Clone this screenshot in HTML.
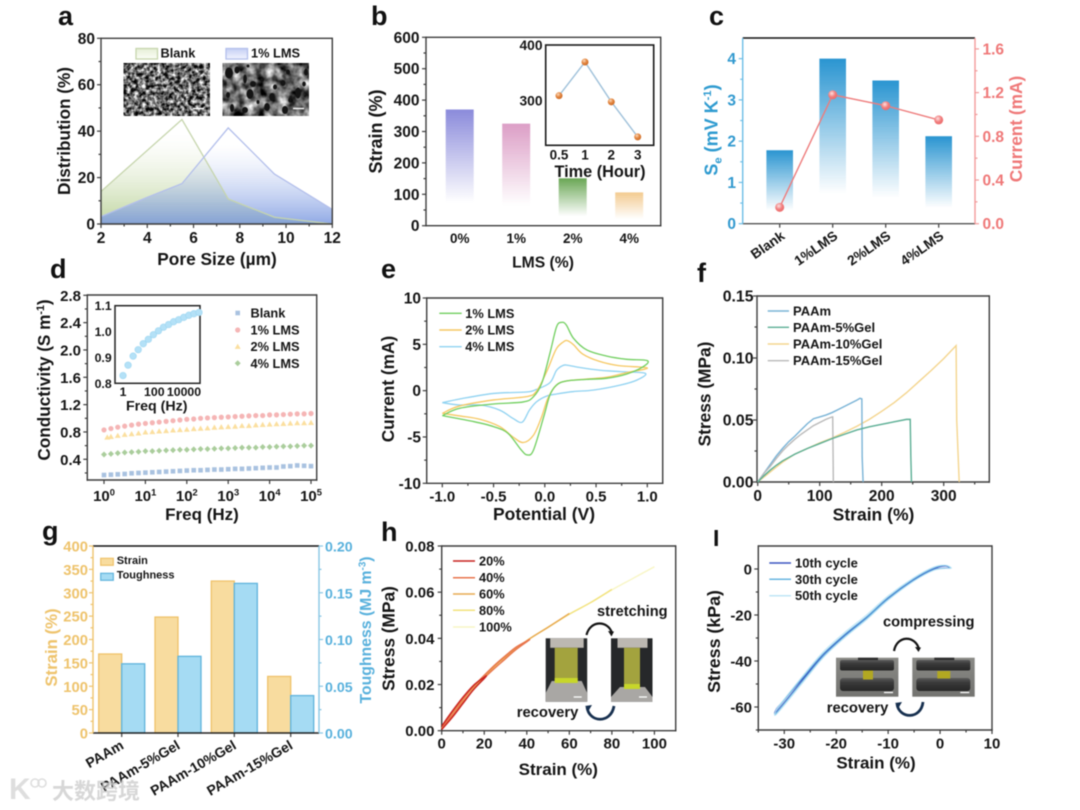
<!DOCTYPE html>
<html lang="en">
<head>
<meta charset="utf-8">
<title>Hydrogel characterization figure</title>
<style>
html,body{margin:0;padding:0;background:#fff;width:1080px;height:810px;overflow:hidden}
svg{display:block;filter:blur(0.45px)}
text{font-family:"Liberation Sans","Noto Sans CJK SC",sans-serif;font-weight:bold;fill:#151515}
</style>
</head>
<body>
<svg id="figure" xmlns="http://www.w3.org/2000/svg" width="1080" height="810" viewBox="0 0 1080 810">
<defs>
<linearGradient id="fillBlank" gradientUnits="userSpaceOnUse" x1="0" y1="224" x2="0" y2="135"><stop offset="0" stop-color="#a9c77f" stop-opacity=".75"/><stop offset="1" stop-color="#dfe9cc" stop-opacity="0"/></linearGradient>
<linearGradient id="fillLms" gradientUnits="userSpaceOnUse" x1="0" y1="224" x2="0" y2="145"><stop offset="0" stop-color="#7c9ae0" stop-opacity=".85"/><stop offset="1" stop-color="#c9d4f5" stop-opacity="0"/></linearGradient>
<linearGradient id="swGreen" x1="0" y1="0" x2="0" y2="1"><stop offset="0" stop-color="#e6efd6"/><stop offset="1" stop-color="#fbfdf7"/></linearGradient>
<linearGradient id="swBlue" x1="0" y1="0" x2="0" y2="1"><stop offset="0" stop-color="#c5cff5"/><stop offset="1" stop-color="#f2f4fe"/></linearGradient>
<radialGradient id="ballOrange" cx=".38" cy=".32" r=".75"><stop offset="0" stop-color="#fbdcc0"/><stop offset=".45" stop-color="#e58a45"/><stop offset="1" stop-color="#c8641f"/></radialGradient>
<radialGradient id="ballRed" cx=".4" cy=".35" r=".75"><stop offset="0" stop-color="#fde2e2"/><stop offset=".5" stop-color="#f17f7f"/><stop offset="1" stop-color="#ea6464"/></radialGradient>
<filter id="semFine" x="0" y="0" width="100%" height="100%" color-interpolation-filters="sRGB"><feTurbulence type="fractalNoise" baseFrequency="0.26" numOctaves="2" seed="4"/><feColorMatrix type="matrix" values="2.0 0 0 0 -0.58 2.0 0 0 0 -0.58 2.0 0 0 0 -0.58 0 0 0 0 1"/></filter>
<filter id="semCoarse" x="0" y="0" width="100%" height="100%" color-interpolation-filters="sRGB"><feTurbulence type="fractalNoise" baseFrequency="0.09" numOctaves="3" seed="9"/><feColorMatrix type="matrix" values="1.6 0 0 0 -0.38 1.6 0 0 0 -0.38 1.6 0 0 0 -0.38 0 0 0 0 1"/></filter>
<linearGradient id="metal" x1="0" y1="0" x2="0" y2="1"><stop offset="0" stop-color="#8a8a86"/><stop offset="1" stop-color="#737370"/></linearGradient>
<linearGradient id="disc" x1="0" y1="0" x2="0" y2="1"><stop offset="0" stop-color="#5a5a5a"/><stop offset=".35" stop-color="#3a3a3a"/><stop offset="1" stop-color="#262626"/></linearGradient>
</defs>
<g id="panel-a"></g>
<g id="panel-b"></g>
<g id="panel-c"></g>
<g id="panel-d"></g>
<g id="panel-e"></g>
<g id="panel-f"></g>
<g id="panel-g"></g>
<g id="panel-h"></g>
<g id="panel-i"></g>
<g id="watermark"></g>
</svg>
<script>
/* ---------- panel a data ---------- */
const aBlankX = [2, 5.5, 7.5, 9.5, 12];
const aBlankY = [14, 45, 10.8, 2.9, 0];
const aLmsX = [2, 4, 5.5, 7.5, 9.5, 12];
const aLmsY = [3.2, 11.5, 17.4, 41.4, 21.5, 6.3];
const aXTicks = [2, 4, 6, 8, 10, 12];
const aYTicks = [0, 20, 40, 60, 80];
/* ---------- panel b data ---------- */
const bCats = ['0%', '1%', '2%', '4%'];
const bStrain = [370, 325, 151, 106];
const bYTicks = [0, 100, 200, 300, 400, 500, 600];
const bInsetCats = ['0.5', '1', '2', '3'];
const bInsetStrain = [309, 369.5, 298, 235];
const bInsetTicks = [300, 400];
/* ---------- panel c data ---------- */
const cCats = ['Blank', '1%LMS', '2%LMS', '4%LMS'];
const cSe = [1.78, 4.0, 3.47, 2.12];
const cCurrent = [0.15, 1.18, 1.08, 0.95];
const cLeftTicks = [0, 1, 2, 3, 4];
const cRightTicks = ['0.0', '0.4', '0.8', '1.2', '1.6'];
/* ---------- panel d data ---------- */
const dFreq = [1,1.47,2.15,3.16,4.64,6.81,10,14.7,21.5,31.6,46.4,68.1,100,147,215,316,464,681,1000,1470,2150,3160,4640,6810,10000,14700,21500,31600,46400,68100,100000];
const d2Freq = [1.2,1.47,2.15,3.16,4.64,6.81,10,14.7,21.5,31.6,46.4,68.1,100,147,215,316,464,681,1000,1470,2150,3160,4640,6810,10000,14700,21500,31600,46400,68100,100000];
const dBlank = [.17,.175,.18,.185,.195,.20,.205,.21,.215,.22,.225,.23,.235,.24,.24,.245,.25,.25,.255,.26,.26,.265,.27,.275,.28,.28,.295,.30,.31,.305,.30];
const d1Lms = [.83,.85,.87,.885,.90,.915,.925,.935,.945,.955,.965,.975,.985,.99,1.0,1.005,1.01,1.015,1.02,1.025,1.03,1.035,1.04,1.04,1.05,1.05,1.055,1.06,1.065,1.065,1.07];
const d2Lms = [.72,.73,.745,.76,.77,.78,.795,.80,.81,.815,.825,.83,.835,.845,.85,.855,.865,.87,.875,.88,.89,.89,.90,.905,.91,.915,.92,.925,.93,.93,.935];
const d4Lms = [.47,.48,.49,.50,.505,.51,.52,.52,.525,.53,.535,.54,.54,.545,.55,.55,.555,.56,.56,.565,.57,.57,.57,.58,.58,.585,.59,.59,.595,.60,.60];
const dYTicks = ['0.4', '0.8', '1.2', '1.6', '2.0', '2.4', '2.8'];
const dXExponents = [0, 1, 2, 3, 4, 5];
const dInsetFreq = [1,2.15,4.64,10,21.5,46.4,100,215,464,1000,2150,4640,10000,21500,46400,100000];
const dInsetCond = [.83,.87,.905,.93,.953,.97,.988,1.003,1.017,1.027,1.038,1.046,1.055,1.063,1.069,1.074];
const dInsetYTicks = ['0.8', '0.9', '1.0', '1.1'];
const dInsetXTicks = ['1', '100', '10000'];
/* ---------- panel e data ---------- */
const e1V = [-1,-.83,-.5,-.21,-.11,-.03,.05,.115,.165,.21,.28,.41,.6,.8,1,.96,.8,.6,.41,.21,.115,.05,-.01,-.11,-.17,-.23,-.36,-.5,-.69,-1];
const e1I = [-2.7,-1.9,-1.44,-1.22,-.65,.79,4.03,6.9,7.37,7.09,5.65,4.39,3.74,3.38,3.24,2.59,1.8,1.33,1.22,1.04,.61,-.47,-2.8,-6.4,-6.94,-6.4,-4.6,-3.88,-3.35,-2.7];
const e2V = [-1,-.83,-.5,-.18,-.08,.02,.11,.18,.22,.28,.37,.53,.72,1,.8,.6,.41,.21,.115,.03,-.03,-.11,-.21,-.31,-.44,-.63,-.83,-1];
const e2I = [-2.45,-1.65,-1,-.65,-.05,2.1,4.46,5.25,5.4,4.96,3.95,3.17,2.7,2.45,1.95,1.44,1.26,1.04,.61,-.83,-2.8,-4.8,-5.6,-5,-3.88,-3.1,-2.73,-2.45];
const e4V = [-1,-.83,-.5,-.18,-.08,.05,.115,.18,.23,.35,.54,.74,.98,.9,.74,.48,.28,.115,.02,-.08,-.15,-.22,-.31,-.44,-.63,-.83,-1];
const e4I = [-1.3,-.9,-.3,-.15,.14,.86,2.2,2.73,2.73,2.48,2.2,2.05,1.87,1.15,.61,.07,-.1,-.36,-.58,-1.2,-2.1,-3.4,-3,-2.1,-1.55,-1.55,-1.3];
const eXTicks = ['-1.0', '-0.5', '0.0', '0.5', '1.0'];
const eYTicks = [-10, -5, 0, 5, 10];
const eSeries = ['1% LMS', '2% LMS', '4% LMS'];
/* ---------- panel f data ---------- */
const fPaamX = [0,10,20,30,40,50,60,70,80,90,100,110,120,130,140,150,160,165,168,168.5,170];
const fPaamY = [0,.007,.014,.021,.027,.0325,.037,.042,.047,.051,.0525,.054,.056,.0585,.061,.0635,.066,.0675,.067,.02,0];
const f5X = [0,10,20,30,40,60,80,100,120,140,160,180,200,220,240,246,247,248];
const f5Y = [0,.005,.0095,.0135,.017,.0225,.027,.031,.035,.0385,.042,.0445,.0465,.0485,.0505,.0505,.02,0];
const f10X = [0,10,20,30,40,60,80,100,120,140,160,180,200,220,240,260,280,300,320,321,325];
const f10Y = [0,.004,.008,.012,.016,.0225,.027,.0315,.0355,.04,.045,.0505,.057,.064,.072,.081,.09,.0995,.11,.05,0];
const f15X = [0,10,20,30,40,50,60,70,80,90,100,110,120,121,122];
const f15Y = [0,.007,.0125,.019,.025,.03,.0345,.0385,.042,.0455,.048,.0505,.0525,.0525,0];
const fXTicks = [0, 100, 200, 300];
const fYTicks = ['0.00', '0.05', '0.10', '0.15'];
const fSeries = ['PAAm', 'PAAm-5%Gel', 'PAAm-10%Gel', 'PAAm-15%Gel'];
/* ---------- panel g data ---------- */
const gCats = ['PAAm', 'PAAm-5%Gel', 'PAAm-10%Gel', 'PAAm-15%Gel'];
const gStrain = [169, 248, 325, 121];
const gTough = [0.074, 0.082, 0.16, 0.04];
const gLeftTicks = [0, 50, 100, 150, 200, 250, 300, 350, 400];
const gRightTicks = ['0.00', '0.05', '0.10', '0.15', '0.20'];
/* ---------- panel h data ---------- */
const h100X = [0,5,10,15,20,25,30,40,50,60,70,80,90,100];
const h100Y = [.001,.0075,.0135,.0188,.0235,.028,.032,.039,.0448,.0505,.0555,.061,.066,.071];
const h80X = [0,5,10,15,20,25,30,40,50,60,70,80];
const h80Y = [.001,.0075,.0135,.0188,.0235,.028,.032,.039,.0448,.0505,.0555,.0612];
const h60X = [0,5,10,15,20,25,30,40,50,60];
const h60Y = [.001,.0075,.0135,.0188,.0235,.028,.032,.039,.0448,.0508];
const h40X = [0,5,10,15,20,25,30,35,40,41,35,30,20,10,5,0];
const h40Y = [.001,.0078,.0138,.0192,.024,.0285,.0325,.0362,.0388,.0392,.0352,.0312,.0228,.0125,.0065,.001];
const h20X = [0,5,10,15,20,21,20,15,10,5,0];
const h20Y = [.002,.0085,.0145,.0197,.0232,.0237,.0226,.0178,.0118,.0058,.0005];
const hXTicks = [0, 20, 40, 60, 80, 100];
const hYTicks = ['0.00', '0.02', '0.04', '0.06', '0.08'];
const hSeries = ['20%', '40%', '60%', '80%', '100%'];
/* ---------- panel i data ---------- */
const i50X = [-31.5,-26.4,-22.5,-18.3,-14.1,-10,-5.1,-1.3,1,2.2,1,-1.3,-5.1,-10,-14.1,-18.3,-22.5,-26.4,-31.5,-31.5];
const i50Y = [-60.8,-46.3,-36,-27.4,-19.8,-11.6,-3.8,.8,1.7,.4,.2,-.7,-5.4,-13.6,-22,-29.8,-38.6,-49.4,-63.2,-60.8];
const i30X = [-31.5,-26.4,-22.5,-18.3,-14.1,-10,-5.1,-1.3,1,2,1,-1.3,-5.1,-10,-14.1,-18.3,-22.5,-26.4,-31.5,-31.5];
const i30Y = [-61.2,-47,-36.8,-28.2,-20.6,-12.3,-4.3,.4,1.5,.4,.3,-.4,-5.1,-13.1,-21.4,-29.2,-38,-48.6,-62.6,-61.2];
const i10X = [-31.5,-26.4,-22.5,-18.3,-14.1,-10,-5.1,-1.3,1,1.8,1,-1.3,-5.1,-10,-14.1,-18.3,-22.5,-26.4,-31.5,-31.5];
const i10Y = [-60.6,-47.4,-37.2,-28.6,-21,-12.7,-4.7,0,1.3,.4,.4,-.3,-4.9,-12.8,-21.2,-29,-37.8,-48,-62,-60.6];
const iXTicks = [-30, -20, -10, 0, 10];
const iYTicks = [-60, -40, -20, 0];
const iSeries = ['10th cycle', '30th cycle', '50th cycle'];

/* ---------- helpers ---------- */
const NS = 'http://www.w3.org/2000/svg';
const AXIS = '#3c3c3c';
function mk(parent, tag, attrs, name, content) {
  const el = document.createElementNS(NS, tag);
  for (const k in attrs) el.setAttribute(k, attrs[k]);
  
  
  if (content !== undefined) el.textContent = content;
  parent.appendChild(el);
  return el;
}
function T(p, x, y, s, name, o) {
  o = o || {};
  const a = { x: x, y: y, 'font-size': o.size || 15, 'text-anchor': o.anchor || 'middle' };
  if (o.fill) a.style = 'fill:' + o.fill;
  if (o.rot !== undefined) a.transform = 'rotate(' + o.rot + ' ' + x + ' ' + y + ')';
  if (Array.isArray(s)) {
    const el = mk(p, 'text', a, name);
    const size = o.size || 15;
    let pending = 0;
    s.forEach(function (part) {
      const sp = document.createElementNS(NS, 'tspan');
      sp.textContent = part[0];
      let dy = pending;
      pending = 0;
      if (part[1] === 'sup') { dy += -size * 0.36; pending = size * 0.36; sp.setAttribute('font-size', size * 0.62); }
      if (part[1] === 'sub') { dy += size * 0.22; pending = -size * 0.22; sp.setAttribute('font-size', size * 0.62); }
      if (dy) sp.setAttribute('dy', dy);
      el.appendChild(sp);
    });
    return el;
  }
  return mk(p, 'text', a, name, s);
}
function linear(d0, d1, r0, r1) { return function (v) { return r0 + (v - d0) / (d1 - d0) * (r1 - r0); }; }
function logScale(d0, d1, r0, r1) { return function (v) { return r0 + (Math.log10(v) - d0) / (d1 - d0) * (r1 - r0); }; }
function L(p, x1, y1, x2, y2, stroke, w, name) {
  return mk(p, 'line', { x1: x1, y1: y1, x2: x2, y2: y2, stroke: stroke, 'stroke-width': w }, name);
}
function box(p, b, name, c) {
  c = c || {};
  const w = c.w || 1.4;
  L(p, b.l, b.t, b.r, b.t, c.top || AXIS, w, name + '-top-spine');
  L(p, b.r, b.t - w / 2, b.r, b.b + w / 2, c.right || AXIS, w, name + '-right-spine');
  L(p, b.l, b.t - w / 2, b.l, b.b + w / 2, c.left || AXIS, w, name + '-left-spine');
  L(p, b.l - w / 2, b.b, b.r + w / 2, b.b, c.bottom || AXIS, w, name + '-bottom-spine');
}
function yTick(p, x, y, len, c, name) { L(p, x, y, x - len, y, c || AXIS, 1.2, name); }
function xTick(p, x, y, len, c, name) { L(p, x, y, x, y + len, c || AXIS, 1.2, name); }
function pathFrom(xs, ys, sx, sy) {
  return xs.map(function (v, i) { return (i ? 'L' : 'M') + sx(v).toFixed(2) + ' ' + sy(ys[i]).toFixed(2); }).join('');
}
function smoothFrom(xs, ys, sx, sy) {
  const pts = xs.map(function (v, i) { return [sx(v), sy(ys[i])]; });
  let d = 'M' + pts[0][0].toFixed(2) + ' ' + pts[0][1].toFixed(2);
  for (let i = 0; i < pts.length - 1; i++) {
    const p0 = pts[Math.max(i - 1, 0)], p1 = pts[i], p2 = pts[i + 1], p3 = pts[Math.min(i + 2, pts.length - 1)];
    const c1 = [p1[0] + (p2[0] - p0[0]) / 6, p1[1] + (p2[1] - p0[1]) / 6];
    const c2 = [p2[0] - (p3[0] - p1[0]) / 6, p2[1] - (p3[1] - p1[1]) / 6];
    d += 'C' + c1[0].toFixed(2) + ' ' + c1[1].toFixed(2) + ' ' + c2[0].toFixed(2) + ' ' + c2[1].toFixed(2) + ' ' + p2[0].toFixed(2) + ' ' + p2[1].toFixed(2);
  }
  return d;
}
function fade(id, color, stop) {
  const defs = document.querySelector('defs');
  const g = document.createElementNS(NS, 'linearGradient');
  g.id = id;
  g.setAttribute('x1', 0); g.setAttribute('y1', 0); g.setAttribute('x2', 0); g.setAttribute('y2', 1);
  [[0, color, 1], [stop, color, 0]].forEach(function (s) {
    const st = document.createElementNS(NS, 'stop');
    st.setAttribute('offset', s[0]);
    st.setAttribute('stop-color', s[1]);
    st.setAttribute('stop-opacity', s[2]);
    g.appendChild(st);
  });
  defs.appendChild(g);
  return 'url(#' + id + ')';
}
function letter(p, x, y, s) { T(p, x, y, s, 'panel-letter-' + s, { size: 27, anchor: 'start', fill: '#111' }); }

/* ---------- panel a ---------- */
(function () {
  const p = document.getElementById('panel-a');
  const b = { l: 101, r: 332.3, t: 38.3, b: 224 };
  const sx = linear(2, 12, b.l, b.r), sy = linear(0, 80, b.b, b.t);
  letter(p, 58, 25, 'a');
  const areaOf = function (xs, ys) { return pathFrom(xs, ys, sx, sy) + 'L' + sx(xs[xs.length - 1]) + ' ' + b.b + 'L' + sx(xs[0]) + ' ' + b.b + 'Z'; };
  mk(p, 'path', { d: areaOf(aBlankX, aBlankY), fill: 'url(#fillBlank)' }, 'blank-area');
  mk(p, 'path', { d: areaOf(aLmsX, aLmsY), fill: 'url(#fillLms)' }, 'lms-area');
  mk(p, 'path', { d: pathFrom(aBlankX, aBlankY, sx, sy), fill: 'none', stroke: '#c6d5ad', 'stroke-width': 1.3 }, 'blank-line');
  mk(p, 'path', { d: pathFrom(aLmsX, aLmsY, sx, sy), fill: 'none', stroke: '#b3bfeb', 'stroke-width': 1.3 }, 'lms-line');
  box(p, b, 'a');
  aXTicks.forEach(function (v) { xTick(p, sx(v), b.b, 4, AXIS, 'x-tick'); T(p, sx(v), 243, String(v), 'x-tick-label', { size: 15.5 }); });
  aYTicks.forEach(function (v, i) {
    yTick(p, b.l, sy(v), 4, AXIS, 'y-tick');
    T(p, 95, sy(v) + 5.5, String(v), 'y-tick-label', { size: 15.5, anchor: 'end' });
    if (i < aYTicks.length - 1) yTick(p, b.l, sy(v + 10), 2.5, AXIS, 'y-minor-tick');
  });
  [3, 5, 7, 9, 11].forEach(function (v) { xTick(p, sx(v), b.b, 2.5, AXIS, 'x-minor-tick'); });
  T(p, 217, 265, 'Pore Size (µm)', 'x-axis-title', { size: 17.3 });
  T(p, 70, 131, 'Distribution (%)', 'y-axis-title', { size: 17.2, rot: -90 });
  mk(p, 'rect', { x: 136, y: 48.5, width: 21.5, height: 10.5, fill: 'url(#swGreen)', stroke: '#c6d5ad', 'stroke-width': 1.3 }, 'legend-swatch-blank');
  T(p, 160.5, 57.5, 'Blank', 'legend-label-blank', { size: 12.8, anchor: 'start' });
  mk(p, 'rect', { x: 226, y: 48.5, width: 21.5, height: 10.5, fill: 'url(#swBlue)', stroke: '#b3bfeb', 'stroke-width': 1.3 }, 'legend-swatch-lms');
  T(p, 251, 57.5, '1% LMS', 'legend-label-lms', { size: 12.8, anchor: 'start' });
  mk(p, 'rect', { x: 123.7, y: 63.3, width: 86, height: 52.7, filter: 'url(#semFine)' }, 'sem-image-blank');
  L(p, 193, 108.5, 204, 108.5, '#fff', 1.4, 'sem-scale-bar-blank');
  mk(p, 'rect', { x: 222.7, y: 63.3, width: 86.3, height: 52.7, filter: 'url(#semCoarse)' }, 'sem-image-lms');
  const pores = [[229,73,4,5.5],[237,70,2.5,3.5],[245,79,1.8,4.5],[253,84,3,3],[250,94,3.5,5],[272,97,2.8,4],[267,107,2.8,4],[285,110,3,4],[298,93,2.8,5.5],[283,83,2.5,3],[288,72,2,2.5],[306,72,2,3.5],[262,80,2,2],[228,95,2,3],[245,110,3,3],[275,87,2,2.5],[232,108,2,4],[304,84,1.8,2.5],[258,102,1.5,2],[290,100,1.8,2.5],[248,66,1.5,1.5]];
  pores.forEach(function (e) { mk(p, 'ellipse', { cx: e[0], cy: e[1], rx: e[2], ry: e[3], fill: '#141414' }, 'sem-pore'); });
  L(p, 293, 108.5, 304, 108.5, '#fff', 1.4, 'sem-scale-bar-lms');
})();

/* ---------- panel b ---------- */
(function () {
  const p = document.getElementById('panel-b');
  const b = { l: 426, r: 660.7, t: 37.3, b: 225.7 };
  const sy = linear(0, 600, b.b, b.t);
  const xs = [459.7, 516.2, 572.7, 629.2];
  const cols = ['#8b8bdb', '#dc9ec6', '#69a654', '#f3cb90'];
  letter(p, 371, 25, 'b');
  bCats.forEach(function (c, i) {
    const f = fade('fb' + i, cols[i], 0.8);
    mk(p, 'rect', { x: xs[i] - 14, y: sy(bStrain[i]), width: 28, height: b.b - sy(bStrain[i]), fill: f }, 'bar-' + c);
    T(p, xs[i], 243, c, 'x-tick-label', { size: 13.5 });
  });
  box(p, b, 'b');
  bYTicks.forEach(function (v, i) {
    yTick(p, b.l, sy(v), 4, AXIS, 'y-tick');
    T(p, 419.5, sy(v) + 5.5, String(v), 'y-tick-label', { size: 15.5, anchor: 'end' });
    if (i < bYTicks.length - 1) yTick(p, b.l, sy(v + 50), 2.5, AXIS, 'y-minor-tick');
  });
  T(p, 543, 267.5, 'LMS (%)', 'x-axis-title', { size: 15.7 });
  T(p, 382, 131.5, 'Strain (%)', 'y-axis-title', { size: 18, rot: -90 });
  const ib = { l: 545.7, r: 653.7, t: 45, b: 145.3 };
  const iy = linear(300, 400, 100.7, 45);
  const ix = [559, 585, 611.3, 637.7];
  mk(p, 'rect', { x: ib.l, y: ib.t, width: ib.r - ib.l, height: ib.b - ib.t, fill: '#fff', stroke: '#1a1a1a', 'stroke-width': 1.6 }, 'inset-frame');
  mk(p, 'polyline', { points: bInsetStrain.map(function (v, i) { return ix[i] + ',' + iy(v); }).join(' '), fill: 'none', stroke: '#9fc1da', 'stroke-width': 1.4 }, 'inset-line');
  bInsetStrain.forEach(function (v, i) {
    mk(p, 'circle', { cx: ix[i], cy: iy(v), r: 3.5, fill: 'url(#ballOrange)' }, 'inset-point');
    T(p, ix[i], 159.5, bInsetCats[i], 'inset-x-tick-label', { size: 13.5 });
  });
  bInsetTicks.forEach(function (v) { T(p, 542.5, iy(v) + 5, String(v), 'inset-y-tick-label', { size: 13.8, anchor: 'end' }); });
  T(p, 600, 177, 'Time (Hour)', 'inset-x-axis-title', { size: 16.3 });
})();

/* ---------- panel c ---------- */
(function () {
  const p = document.getElementById('panel-c');
  const b = { l: 742.7, r: 975, t: 38, b: 223.7 };
  const sy = linear(0, 4.5, b.b, b.t), sr = linear(0, 1.7, b.b, b.t);
  const xs = [779.7, 832.7, 885.7, 938.7];
  const blue = '#3199cf', red = '#ef7878';
  letter(p, 709, 25, 'c');
  cCats.forEach(function (c, i) {
    const f = fade('fc' + i, '#2a95d1', 0.82);
    mk(p, 'rect', { x: xs[i] - 13.3, y: sy(cSe[i]), width: 26.6, height: b.b - sy(cSe[i]), fill: f }, 'bar-' + c);
    xTick(p, xs[i], b.b, 4, AXIS, 'x-tick');
    T(p, xs[i] + 6, 238, c, 'x-tick-label', { size: 13.8, anchor: 'end', rot: -35 });
  });
  L(p, b.l, b.t, b.r, b.t, '#111', 1.4, 'top-spine');
  L(p, b.l, b.b, b.r, b.b, '#555', 1.4, 'bottom-spine');
  L(p, b.l, b.t, b.l, b.b, '#6cbde6', 1.4, 'left-spine');
  L(p, b.r, b.t, b.r, b.b, '#f29a9a', 1.4, 'right-spine');
  cLeftTicks.forEach(function (v, i) {
    yTick(p, b.l, sy(v), 4, '#6cbde6', 'left-tick');
    T(p, 736, sy(v) + 5.5, String(v), 'left-tick-label', { size: 15.5, anchor: 'end', fill: blue });
    if (i < cLeftTicks.length - 1) yTick(p, b.l, sy(v + 0.5), 2.5, '#6cbde6', 'left-minor-tick');
  });
  cRightTicks.forEach(function (v, i) {
    const y = sr(parseFloat(v));
    L(p, b.r, y, b.r + 4, y, '#f29a9a', 1.2, 'right-tick');
    T(p, 982.5, y + 5.5, v, 'right-tick-label', { size: 15.5, anchor: 'start', fill: red });
    if (i < cRightTicks.length - 1) L(p, b.r, sr(parseFloat(v) + 0.2), b.r + 2.5, sr(parseFloat(v) + 0.2), '#f29a9a', 1.2, 'right-minor-tick');
  });
  mk(p, 'polyline', { points: cCurrent.map(function (v, i) { return xs[i] + ',' + sr(v); }).join(' '), fill: 'none', stroke: '#ee7c7c', 'stroke-width': 1.4 }, 'current-line');
  cCurrent.forEach(function (v, i) { mk(p, 'circle', { cx: xs[i], cy: sr(v), r: 4.5, fill: 'url(#ballRed)' }, 'current-point'); });
  T(p, 717.5, 130, [['S'], ['e', 'sub'], [' (mV K'], ['-1', 'sup'], [')']], 'left-axis-title', { size: 18, rot: -90, fill: '#2f9bd0' });
  T(p, 1022, 129, 'Current (mA)', 'right-axis-title', { size: 17.3, rot: -90, fill: red });
})();

/* ---------- panel d ---------- */
(function () {
  const p = document.getElementById('panel-d');
  const b = { l: 87.3, r: 316.7, t: 295, b: 480 };
  const sx = logScale(0, 5, 104, 311), sy = linear(0.4, 2.8, 459.3, 295.3);
  letter(p, 50, 278, 'd');
  box(p, b, 'd');
  dYTicks.forEach(function (v, i) {
    const y = sy(parseFloat(v));
    yTick(p, b.l, y, 4, AXIS, 'y-tick');
    T(p, 81, y + 5.5, v, 'y-tick-label', { size: 15, anchor: 'end' });
    yTick(p, b.l, sy(parseFloat(v) - 0.2), 2.5, AXIS, 'y-minor-tick');
  });
  dXExponents.forEach(function (e) {
    const x = sx(Math.pow(10, e));
    xTick(p, x, b.b, 4, AXIS, 'x-tick');
    T(p, x, 501, [['10'], [String(e), 'sup']], 'x-tick-label', { size: 15 });
  });
  function marker(type, x, y, fill, name) {
    if (type === 'square') mk(p, 'rect', { x: x - 2.3, y: y - 2.3, width: 4.6, height: 4.6, fill: fill }, name);
    if (type === 'circle') mk(p, 'circle', { cx: x, cy: y, r: 2.6, fill: fill }, name);
    if (type === 'triangle') mk(p, 'path', { d: 'M' + x + ' ' + (y - 3) + 'l3 5.2h-6z', fill: fill }, name);
    if (type === 'diamond') mk(p, 'path', { d: 'M' + x + ' ' + (y - 3) + 'l3 3l-3 3l-3-3z', fill: fill }, name);
  }
  const seriesDefs = [[dFreq, dBlank, 'square', '#a9c2e0', 'blank'], [dFreq, d1Lms, 'circle', '#f5b5b5', '1-percent-lms'], [d2Freq, d2Lms, 'triangle', '#fbdf9f', '2-percent-lms'], [dFreq, d4Lms, 'diamond', '#aacd9c', '4-percent-lms']];
  seriesDefs.forEach(function (s) {
    s[1].forEach(function (v, i) { marker(s[2], sx(s[0][i]), sy(v), s[3], 'point-' + s[4]); });
  });
  const legY = [313, 330, 346.7, 363.3], legT = ['Blank', '1% LMS', '2% LMS', '4% LMS'];
  seriesDefs.forEach(function (s, i) {
    marker(s[2], 237.7, legY[i], s[3], 'legend-marker-' + s[4]);
    T(p, 250.5, legY[i] + 4.5, legT[i], 'legend-label-' + s[4], { size: 12.8, anchor: 'start' });
  });
  T(p, 202, 520, 'Freq (Hz)', 'x-axis-title', { size: 17 });
  T(p, 50, 380, [['Conductivity (S m'], ['-1', 'sup'], [')']], 'y-axis-title', { size: 17.2, rot: -90 });
  const ib = { l: 115, r: 200, t: 305.7, b: 383.3 };
  const ix = logScale(0, 5, 123, 199), iy = linear(0.8, 1.1, ib.b, ib.t);
  mk(p, 'rect', { x: ib.l, y: ib.t, width: ib.r - ib.l, height: ib.b - ib.t, fill: '#fff', stroke: '#222', 'stroke-width': 1.5 }, 'inset-frame');
  dInsetCond.forEach(function (v, i) { mk(p, 'circle', { cx: ix(dInsetFreq[i]), cy: iy(v), r: 3.3, fill: '#b4e1f7', stroke: '#9dd6f1', 'stroke-width': .6 }, 'inset-point'); });
  dInsetYTicks.forEach(function (v) { T(p, 111.7, iy(parseFloat(v)) + 4.5, v, 'inset-y-tick-label', { size: 12.3, anchor: 'end' }); });
  const inXp = [123, 154.3, 184];
  dInsetXTicks.forEach(function (v, i) { T(p, inXp[i], 396, v, 'inset-x-tick-label', { size: 12.3 }); });
  T(p, 156.7, 410.7, 'Freq (Hz)', 'inset-x-axis-title', { size: 14.2 });
})();

/* ---------- panel e ---------- */
(function () {
  const p = document.getElementById('panel-e');
  const b = { l: 426.7, r: 662.7, t: 298, b: 483.3 };
  const sx = linear(-1, 1, 442.3, 647.3), sy = linear(-10, 10, b.b, b.t);
  const cols = ['#71cf5f', '#f6c862', '#8fd2f1'];
  letter(p, 381, 278, 'e');
  box(p, b, 'e');
  eXTicks.forEach(function (v, i) {
    const x = sx(parseFloat(v));
    xTick(p, x, b.b, 4, AXIS, 'x-tick');
    T(p, x, 501.5, v, 'x-tick-label', { size: 15 });
    if (i < eXTicks.length - 1) xTick(p, sx(parseFloat(v) + 0.25), b.b, 2.5, AXIS, 'x-minor-tick');
  });
  eYTicks.forEach(function (v, i) {
    yTick(p, b.l, sy(v), 4, AXIS, 'y-tick');
    T(p, 421, sy(v) + 5.5, String(v), 'y-tick-label', { size: 15.5, anchor: 'end' });
    if (i < eYTicks.length - 1) yTick(p, b.l, sy(v + 2.5), 2.5, AXIS, 'y-minor-tick');
  });
  mk(p, 'path', { d: smoothFrom(e4V, e4I, sx, sy), fill: 'none', stroke: cols[2], 'stroke-width': 1.3 }, 'cv-curve-4-percent');
  mk(p, 'path', { d: smoothFrom(e2V, e2I, sx, sy), fill: 'none', stroke: cols[1], 'stroke-width': 1.3 }, 'cv-curve-2-percent');
  mk(p, 'path', { d: smoothFrom(e1V, e1I, sx, sy), fill: 'none', stroke: cols[0], 'stroke-width': 1.3 }, 'cv-curve-1-percent');
  const ly = [313.3, 330, 346.7];
  eSeries.forEach(function (s, i) {
    L(p, 439.3, ly[i], 461.7, ly[i], cols[i], 1.4, 'legend-line');
    T(p, 465.3, ly[i] + 4.5, s, 'legend-label', { size: 12.8, anchor: 'start' });
  });
  T(p, 544, 520, 'Potential (V)', 'x-axis-title', { size: 17.5 });
  T(p, 394, 389, 'Current (mA)', 'y-axis-title', { size: 17.3, rot: -90 });
})();

/* ---------- panel f ---------- */
(function () {
  const p = document.getElementById('panel-f');
  const b = { l: 757, r: 989.3, t: 296, b: 482 };
  const sx = linear(0, 100, 757.7, 819.7), sy = linear(0, 0.15, b.b, b.t);
  const cols = ['#79b3d6', '#5bae94', '#f4d58e', '#b9b9b9'];
  letter(p, 697, 282, 'f');
  box(p, b, 'f');
  fXTicks.forEach(function (v) {
    xTick(p, sx(v), b.b, 4, AXIS, 'x-tick');
    T(p, sx(v), 501, String(v), 'x-tick-label', { size: 15.5 });
    xTick(p, sx(v + 50), b.b, 2.5, AXIS, 'x-minor-tick');
  });
  fYTicks.forEach(function (v, i) {
    const n = parseFloat(v);
    yTick(p, b.l, sy(n), 4, AXIS, 'y-tick');
    T(p, 753.5, sy(n) + 5.5, v, 'y-tick-label', { size: 15.8, anchor: 'end' });
    if (i < fYTicks.length - 1) yTick(p, b.l, sy(n + 0.025), 2.5, AXIS, 'y-minor-tick');
  });
  const data = [[f10X, f10Y, cols[2]], [fPaamX, fPaamY, cols[0]], [f15X, f15Y, cols[3]], [f5X, f5Y, cols[1]]];
  data.forEach(function (d) { mk(p, 'path', { d: pathFrom(d[0], d[1], sx, sy), fill: 'none', stroke: d[2], 'stroke-width': 1.4 }, 'stress-strain-curve'); });
  const ly = [311, 327.3, 344, 360.7];
  fSeries.forEach(function (s, i) {
    L(p, 767.7, ly[i], 789, ly[i], cols[i], 1.4, 'legend-line');
    T(p, 793, ly[i] + 4.5, s, 'legend-label', { size: 13, anchor: 'start' });
  });
  T(p, 873.5, 520.5, 'Strain (%)', 'x-axis-title', { size: 17.5 });
  T(p, 710.5, 394, 'Stress (MPa)', 'y-axis-title', { size: 17.3, rot: -90 });
})();

/* ---------- panel g ---------- */
(function () {
  const p = document.getElementById('panel-g');
  const b = { l: 93, r: 319, t: 546, b: 733 };
  const sy = linear(0, 400, b.b, b.t), sr = linear(0, 0.2, b.b, b.t);
  const xs = [121.7, 178, 234.3, 290.7];
  const yl = '#eec36c', bl = '#57b0dc';
  letter(p, 42, 540, 'g');
  gCats.forEach(function (c, i) {
    mk(p, 'rect', { x: xs[i] - 23, y: sy(gStrain[i]), width: 23, height: b.b - sy(gStrain[i]), fill: '#f8dc9f', stroke: '#efc26a', 'stroke-width': 1.3 }, 'strain-bar');
    mk(p, 'rect', { x: xs[i], y: sr(gTough[i]), width: 23, height: b.b - sr(gTough[i]), fill: '#a5dbf3', stroke: '#5fb3dc', 'stroke-width': 1.3 }, 'toughness-bar');
    xTick(p, xs[i], b.b, 4, AXIS, 'x-tick');
    T(p, xs[i] + 3, 748, c, 'x-tick-label', { size: 14, anchor: 'end', rot: -30 });
  });
  L(p, b.l, b.t, b.r, b.t, '#111', 1.4, 'top-spine');
  L(p, b.l, b.b, b.r, b.b, '#222', 1.4, 'bottom-spine');
  L(p, b.l, b.t, b.l, b.b, yl, 1.4, 'left-spine');
  L(p, b.r, b.t, b.r, b.b, '#87c6e4', 1.4, 'right-spine');
  gLeftTicks.forEach(function (v, i) {
    yTick(p, b.l, sy(v), 4, yl, 'left-tick');
    T(p, 88, sy(v) + 5.5, String(v), 'left-tick-label', { size: 14.8, anchor: 'end', fill: yl });
    if (i < gLeftTicks.length - 1) yTick(p, b.l, sy(v + 25), 2.5, yl, 'left-minor-tick');
  });
  gRightTicks.forEach(function (v, i) {
    const y = sr(parseFloat(v));
    L(p, b.r, y, b.r + 4, y, '#87c6e4', 1.2, 'right-tick');
    T(p, 325, y + 5.5, v, 'right-tick-label', { size: 14.2, anchor: 'start', fill: bl });
    if (i < gRightTicks.length - 1) L(p, b.r, sr(parseFloat(v) + 0.025), b.r + 2.5, sr(parseFloat(v) + 0.025), '#87c6e4', 1.2, 'right-minor-tick');
  });
  mk(p, 'rect', { x: 100.7, y: 558.3, width: 12.6, height: 7, fill: '#f8dc9f', stroke: '#efc26a', 'stroke-width': 1.2 }, 'legend-swatch-strain');
  T(p, 116.7, 563.8, 'Strain', 'legend-label-strain', { size: 11, anchor: 'start' });
  mk(p, 'rect', { x: 100.7, y: 573.3, width: 12.6, height: 7, fill: '#a5dbf3', stroke: '#5fb3dc', 'stroke-width': 1.2 }, 'legend-swatch-toughness');
  T(p, 116.7, 578.5, 'Toughness', 'legend-label-toughness', { size: 11, anchor: 'start' });
  T(p, 57, 647.5, 'Strain (%)', 'left-axis-title', { size: 16.8, rot: -90, fill: yl });
  T(p, 371, 630, [['Toughness (MJ m'], ['-3', 'sup'], [')']], 'right-axis-title', { size: 15.8, rot: -90, fill: bl });
})();

/* ---------- panel h ---------- */
(function () {
  const p = document.getElementById('panel-h');
  const b = { l: 441.7, r: 675.7, t: 546, b: 730.7 };
  const sx = linear(0, 110, b.l, b.r), sy = linear(0, 0.08, b.b, b.t);
  const cols = ['#c8221f', '#e8744c', '#e8a950', '#f2e27c', '#f8f6c4'];
  letter(p, 381, 541, 'h');
  box(p, b, 'h');
  hXTicks.forEach(function (v) {
    xTick(p, sx(v), b.b, 4, AXIS, 'x-tick');
    T(p, sx(v), 748.3, String(v), 'x-tick-label', { size: 15 });
  });
  [10, 30, 50, 70, 90].forEach(function (v) { xTick(p, sx(v), b.b, 2.5, AXIS, 'x-minor-tick'); });
  hYTicks.forEach(function (v, i) {
    const n = parseFloat(v);
    yTick(p, b.l, sy(n), 4, AXIS, 'y-tick');
    T(p, 434.5, sy(n) + 5.5, v, 'y-tick-label', { size: 15, anchor: 'end' });
    if (i < hYTicks.length - 1) yTick(p, b.l, sy(n + 0.01), 2.5, AXIS, 'y-minor-tick');
  });
  const d = [[h100X, h100Y, 4], [h80X, h80Y, 3], [h60X, h60Y, 2], [h40X, h40Y, 1], [h20X, h20Y, 0]];
  d.forEach(function (s) { mk(p, 'path', { d: smoothFrom(s[0], s[1], sx, sy), fill: 'none', stroke: cols[s[2]], 'stroke-width': 1.4 }, 'cycle-curve-' + hSeries[s[2]]); });
  const ly = [561, 577.7, 594, 610.3, 627];
  hSeries.forEach(function (s, i) {
    L(p, 453, ly[i], 475, ly[i], cols[i], 1.5, 'legend-line');
    T(p, 479, ly[i] + 4.5, s, 'legend-label', { size: 12.8, anchor: 'start' });
  });
  T(p, 558.3, 775, 'Strain (%)', 'x-axis-title', { size: 17 });
  T(p, 394.5, 638.5, 'Stress (MPa)', 'y-axis-title', { size: 17.3, rot: -90 });
  T(p, 597, 616, 'stretching', 'stretching-label', { size: 14.6, anchor: 'start' });
  T(p, 516.7, 717, 'recovery', 'recovery-label', { size: 14.8, anchor: 'start' });
  mk(p, 'path', { d: 'M586.5 635C590 620 608 620 612 633', fill: 'none', stroke: '#141414', 'stroke-width': 2.2 }, 'stretching-arrow');
  mk(p, 'path', { d: 'M608 631l6 .5l-2.5 5z', fill: '#141414' }, 'stretching-arrowhead');
  mk(p, 'path', { d: 'M587 707C589 723 611 724 614 706', fill: 'none', stroke: '#17304f', 'stroke-width': 2.8 }, 'recovery-arrow');
  mk(p, 'path', { d: 'M585 706l7 -1l-3 5z', fill: '#17304f' }, 'recovery-arrowhead');
  function photo(name, x, clampL, clampR, gelL, gelR, gelBot, standT, standL, standR, baseT, stripeH) {
    const g = mk(p, 'g', {}, name);
    mk(g, 'rect', { x: x, y: 638.3, width: 41.5, height: 63.4, fill: '#26282a' }, 'photo-background');
    mk(g, 'rect', { x: x + clampL, y: 638.3, width: clampR - clampL, height: 9.5, fill: '#bcb8b2' }, 'photo-clamp');
    mk(g, 'rect', { x: x + gelL, y: 647.8, width: gelR - gelL, height: gelBot - 647.8, fill: '#a3a33e' }, 'photo-gel');
    mk(g, 'path', { d: 'M' + (x + standL) + ' ' + standT + 'H' + (x + standR) + 'L' + (x + 41.5) + ' ' + baseT + 'V701.7H' + x + 'V' + baseT + 'Z', fill: '#a9a7a4' }, 'photo-stand');
    mk(g, 'rect', { x: x + gelL, y: standT - stripeH, width: gelR - gelL, height: stripeH + 2, fill: '#c7d62a' }, 'photo-gel-base');
    L(g, x + 28, 697, x + 36, 697, '#fff', 1.3, 'photo-scale-bar');
  }
  photo('stretch-photo-relaxed', 545.7, 4.5, 38, 9, 32, 681, 681, 6, 36, 693, 3);
  photo('stretch-photo-stretched', 611, 6.5, 36.5, 13, 29, 692, 687, 9, 34, 697, 3);
})();

/* ---------- panel i ---------- */
(function () {
  const p = document.getElementById('panel-i');
  const b = { l: 758.3, r: 992, t: 546, b: 730 };
  const sx = linear(-35, 10, b.l, b.r), sy = linear(-70, 10, b.b, b.t);
  const cols = ['#3a55c0', '#69b6e0', '#bfe5f6'];
  T(p, 713, 546, 'I', 'panel-letter-i', { size: 23, anchor: 'start', fill: '#111' });
  box(p, b, 'i');
  iXTicks.forEach(function (v, i) {
    xTick(p, sx(v), b.b, 4, AXIS, 'x-tick');
    T(p, sx(v), 748.3, String(v), 'x-tick-label', { size: 15 });
    xTick(p, sx(v - 5), b.b, 2.5, AXIS, 'x-minor-tick');
  });
  iYTicks.forEach(function (v) {
    yTick(p, b.l, sy(v), 4, AXIS, 'y-tick');
    T(p, 752, sy(v) + 5.5, String(v), 'y-tick-label', { size: 15, anchor: 'end' });
    yTick(p, b.l, sy(v - 10), 2.5, AXIS, 'y-minor-tick');
  });
  mk(p, 'path', { d: smoothFrom(i10X, i10Y, sx, sy), fill: 'none', stroke: cols[0], 'stroke-width': .9 }, 'cycle-10-curve');
  mk(p, 'path', { d: smoothFrom(i30X, i30Y, sx, sy), fill: 'none', stroke: cols[1], 'stroke-width': 1 }, 'cycle-30-curve');
  mk(p, 'path', { d: smoothFrom(i50X, i50Y, sx, sy), fill: 'none', stroke: cols[2], 'stroke-width': .9 }, 'cycle-50-curve');
  const ly = [563, 579.3, 595.7];
  iSeries.forEach(function (s, i) {
    L(p, 769.3, ly[i], 791, ly[i], cols[i], 1.5, 'legend-line');
    T(p, 795, ly[i] + 4.5, s, 'legend-label', { size: 13, anchor: 'start' });
  });
  T(p, 876, 768.3, 'Strain (%)', 'x-axis-title', { size: 17 });
  T(p, 720, 641.5, 'Stress (kPa)', 'y-axis-title', { size: 17.8, rot: -90 });
  T(p, 883, 626.7, 'compressing', 'compressing-label', { size: 14.7, anchor: 'start' });
  T(p, 826.7, 712.7, 'recovery', 'recovery-label', { size: 14.8, anchor: 'start' });
  mk(p, 'path', { d: 'M894 651C897 635 915 635 919 649', fill: 'none', stroke: '#141414', 'stroke-width': 2.2 }, 'compressing-arrow');
  mk(p, 'path', { d: 'M915 647l6 .5l-2.5 4.5z', fill: '#141414' }, 'compressing-arrowhead');
  mk(p, 'path', { d: 'M897 704C899 719 921 720 923 702', fill: 'none', stroke: '#17304f', 'stroke-width': 2.8 }, 'recovery-arrow');
  mk(p, 'path', { d: 'M895 703l7 -1l-3 5z', fill: '#17304f' }, 'recovery-arrowhead');
  function photo(name, x, gelL, gelW, gelT, gelH) {
    const g = mk(p, 'g', {}, name);
    mk(g, 'rect', { x: x, y: 657.7, width: 62.4, height: 39, fill: 'url(#metal)' }, 'photo-background');
    mk(g, 'rect', { x: x + 22, y: 657.7, width: 20, height: 3, fill: '#2c2c2c' }, 'photo-upper-rod');
    mk(g, 'rect', { x: x + 4, y: 660, width: 54, height: 10.5, rx: 2, fill: 'url(#disc)' }, 'photo-upper-plate');
    mk(g, 'rect', { x: x + 4, y: 678, width: 54, height: 13, rx: 3, fill: 'url(#disc)' }, 'photo-lower-plate');
    mk(g, 'rect', { x: x + gelL, y: gelT, width: gelW, height: gelH, fill: '#b2a822' }, 'photo-gel');
    L(g, x + 48, 692.5, x + 57, 692.5, '#fff', 1.3, 'photo-scale-bar');
  }
  photo('compress-photo-relaxed', 836, 27, 10, 670.5, 9);
  photo('compress-photo-compressed', 912.3, 25, 13, 671, 7.5);
})();

/* ---------- watermark ---------- */
(function () {
  const p = document.getElementById('watermark');
  T(p, 9, 799, 'K', 'watermark-logo-letter', { size: 30, anchor: 'start', fill: '#dedede' });
  mk(p, 'circle', { cx: 35, cy: 783, r: 4, fill: 'none', stroke: '#dedede', 'stroke-width': 1.6 }, 'watermark-logo-circle');
  mk(p, 'circle', { cx: 42, cy: 783, r: 4, fill: 'none', stroke: '#dedede', 'stroke-width': 1.6 }, 'watermark-logo-circle');
  T(p, 52, 799, '大数跨境', 'watermark-text', { size: 22, anchor: 'start', fill: 'rgba(205,205,205,.8)' });
})();
</script>
</body>
</html>
